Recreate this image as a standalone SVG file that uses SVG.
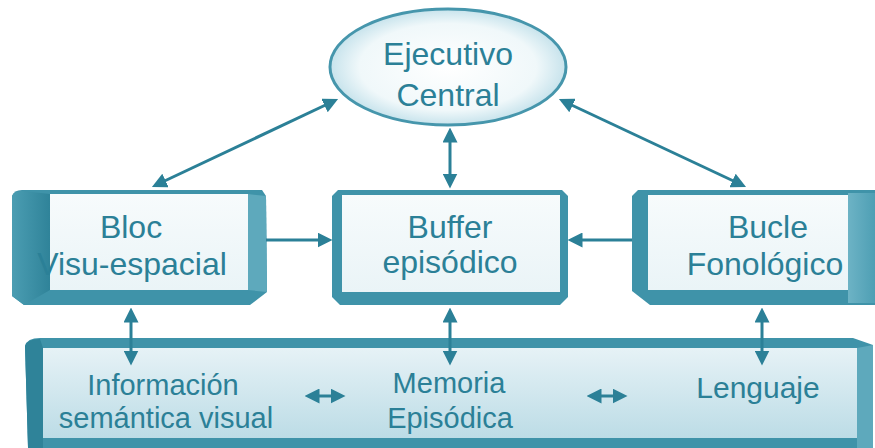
<svg xmlns="http://www.w3.org/2000/svg" width="875" height="448" viewBox="0 0 875 448">
<style>
.t{font-family:"Liberation Sans",Arial,sans-serif;fill:#2b8097;text-anchor:middle}
.c{stroke:#2b8097;stroke-width:3;fill:none}
.face{fill:#3f93a9}
.dark{fill:#2f8399}
.lite{fill:#5ea9bc}
</style>
<defs>
<marker id="ah" viewBox="0 0 10 10" markerUnits="userSpaceOnUse" markerWidth="15" markerHeight="15" refX="7" refY="5" orient="auto-start-reverse">
<path d="M0,0 L10,5 L0,10 Z" fill="#2b8097"/>
</marker>
<linearGradient id="inner" x1="0" y1="0" x2="0" y2="1">
<stop offset="0" stop-color="#f7fbfc"/>
<stop offset="1" stop-color="#eaf4f7"/>
</linearGradient>
<linearGradient id="bar" x1="0" y1="0" x2="0" y2="1">
<stop offset="0" stop-color="#e6f2f6"/>
<stop offset="1" stop-color="#bcdce6"/>
</linearGradient>
<linearGradient id="rface" x1="0" y1="0" x2="1" y2="0">
<stop offset="0" stop-color="#6db3c5"/>
<stop offset="1" stop-color="#4e9fb4"/>
</linearGradient>
<linearGradient id="lface" x1="0" y1="0" x2="1" y2="0">
<stop offset="0" stop-color="#4b9db2"/>
<stop offset="1" stop-color="#2f8399"/>
</linearGradient>
<radialGradient id="ell" cx="0.5" cy="0.5" r="0.5">
<stop offset="0" stop-color="#ffffff"/>
<stop offset="0.75" stop-color="#f0f8fa"/>
<stop offset="1" stop-color="#c7e3ec"/>
</radialGradient>
</defs>
<rect width="875" height="448" fill="#ffffff"/>

<g id="ejecutivo">
<ellipse cx="448" cy="67" rx="118" ry="58" fill="url(#ell)" stroke="#4696ac" stroke-width="3"/>
<text class="t" x="448" y="65" font-size="32">Ejecutivo</text>
<text class="t" x="448" y="106" font-size="32">Central</text>
</g>

<g id="bloc">
<path class="face" d="M12,196 Q14,190 22,190 L262,190 L266,196 L267,292 L250,305 L24,305 L12,296 Z"/>
<path fill="url(#lface)" d="M12,196 Q14,191 22,191 L50,194 L50,290 L24,305 L12,296 Z"/>
<path class="lite" d="M248,194 L266,196 L267,292 L248,290 Z"/>
<rect x="50" y="194" width="198" height="96" fill="url(#inner)"/>
<text class="t" x="131" y="238" font-size="32">Bloc</text>
<text class="t" x="132" y="275" font-size="32">Visu-espacial</text>
</g>

<g id="buffer">
<path class="face" d="M332,196 L338,190 L562,190 L568,196 L568,297 L560,305 L340,305 L332,297 Z"/>
<rect x="342" y="195" width="218" height="97" fill="url(#inner)"/>
<text class="t" x="450" y="238" font-size="32">Buffer</text>
<text class="t" x="450" y="273" font-size="32">episódico</text>
</g>

<g id="bucle">
<path class="face" d="M632,196 L638,190 L875,190 L875,305 L650,305 L632,291 Z"/>
<rect x="848" y="193" width="27" height="110" fill="url(#rface)"/>
<rect x="648" y="195" width="200" height="95" fill="url(#inner)"/>
<text class="t" x="768" y="238" font-size="32">Bucle</text>
<text class="t" x="765" y="275" font-size="32">Fonológico</text>
</g>

<g id="memoria-bar">
<path class="face" d="M25,346 Q27,338 40,338 L853,338 L873,345 L873,448 L28,448 Z"/>
<path class="dark" d="M25,346 Q27,339 40,339 L43,348 L43,448 L28,448 Z"/>
<path class="lite" d="M857,348 L873,345 L873,448 L857,448 Z"/>
<rect x="43" y="348" width="814" height="90" fill="url(#bar)"/>
<text class="t" x="163" y="395" font-size="29">Información</text>
<text class="t" x="166" y="428" font-size="29">semántica visual</text>
<text class="t" x="449" y="393" font-size="29">Memoria</text>
<text class="t" x="450" y="428" font-size="29">Episódica</text>
<text class="t" x="758" y="398" font-size="30">Lenguaje</text>
</g>

<g id="connectors">
<line class="c" x1="334" y1="101" x2="156" y2="185" marker-start="url(#ah)" marker-end="url(#ah)"/>
<line class="c" x1="450" y1="132" x2="450" y2="184" marker-start="url(#ah)" marker-end="url(#ah)"/>
<line class="c" x1="563" y1="101" x2="742" y2="185" marker-start="url(#ah)" marker-end="url(#ah)"/>
<line class="c" x1="266" y1="240" x2="328" y2="240" marker-end="url(#ah)"/>
<line class="c" x1="632" y1="240" x2="572" y2="240" marker-end="url(#ah)"/>
<line class="c" x1="131" y1="312" x2="131" y2="361" marker-start="url(#ah)" marker-end="url(#ah)"/>
<line class="c" x1="450" y1="312" x2="450" y2="361" marker-start="url(#ah)" marker-end="url(#ah)"/>
<line class="c" x1="762" y1="312" x2="762" y2="361" marker-start="url(#ah)" marker-end="url(#ah)"/>
<line class="c" x1="309" y1="396" x2="341" y2="396" marker-start="url(#ah)" marker-end="url(#ah)"/>
<line class="c" x1="591" y1="396" x2="623" y2="396" marker-start="url(#ah)" marker-end="url(#ah)"/>
</g>
</svg>
